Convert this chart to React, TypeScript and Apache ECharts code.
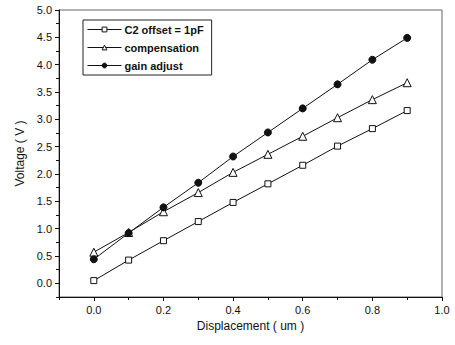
import React, { useEffect, useRef } from "react";
import * as echarts from "echarts";

const xValues = [0, 0.1, 0.2, 0.3, 0.4, 0.5, 0.6, 0.7, 0.8, 0.9];
const offsetSeries = [0.05, 0.425, 0.78, 1.13, 1.48, 1.82, 2.16, 2.51, 2.83, 3.16];
const compensationSeries = [0.57, 0.93, 1.31, 1.66, 2.03, 2.36, 2.69, 3.03, 3.36, 3.67];
const gainSeries = [0.44, 0.92, 1.39, 1.84, 2.32, 2.76, 3.2, 3.64, 4.09, 4.49];
const xTickLabels = [0, 0.2, 0.4, 0.6, 0.8, 1.0];
const yTickLabels = [0, 0.5, 1.0, 1.5, 2.0, 2.5, 3.0, 3.5, 4.0, 4.5, 5.0];
const seriesNames = ["C2 offset = 1pF", "compensation", "gain adjust"];

const font = "Liberation Sans, Arial, sans-serif";

export default function App() {
  const ref = useRef<HTMLDivElement>(null);
  useEffect(() => {
    if (!ref.current) return;
    const chart = echarts.init(ref.current, undefined, { renderer: "svg" });
    const pair = (ys: number[]) => xValues.map((x, i) => [x, ys[i]]);
    const lineStyle = { color: "#111", width: 1 };
    chart.setOption({
      animation: false,
      backgroundColor: "#fff",
      textStyle: { fontFamily: font },
      grid: {
        left: 59,
        right: 13,
        top: 10,
        bottom: 48,
        show: true,
        borderColor: "#666",
        borderWidth: 1,
      },
      legend: {
        orient: "vertical",
        left: 83,
        top: 20,
        padding: [4, 8, 4, 4],
        itemWidth: 34,
        itemHeight: 6,
        itemGap: 7,
        borderColor: "#222",
        borderWidth: 1,
        lineStyle: { width: 1 },
        itemStyle: { borderWidth: 1 },
        textStyle: { fontFamily: font, fontSize: 11, color: "#111", fontWeight: "bold", padding: [0, 0, 0, -2] },
        data: seriesNames,
      },
      xAxis: [
        {
          type: "value",
          min: -0.1,
          max: 1.0,
          name: "Displacement ( um )",
          nameLocation: "middle",
          nameGap: 23,
          nameTextStyle: { fontFamily: font, fontSize: 12, color: "#111" },
          axisLine: { show: true, onZero: false, lineStyle: { color: "#111", width: 1 } },
          axisTick: { show: true, customValues: xTickLabels, length: 4, lineStyle: { color: "#111" } },
          axisLabel: {
            customValues: xTickLabels,
            formatter: (v: number) => v.toFixed(1),
            fontFamily: font,
            fontSize: 11,
            color: "#111",
            margin: 7,
          },
          splitLine: { show: false },
        },
        {
          type: "value",
          min: -0.1,
          max: 1.0,
          interval: 0.1,
          position: "bottom",
          axisLine: { show: false, onZero: false },
          axisTick: { show: true, length: 3, lineStyle: { color: "#111" } },
          axisLabel: { show: false },
          splitLine: { show: false },
        },
      ],
      yAxis: [
        {
          type: "value",
          min: -0.25,
          max: 5.0,
          name: "Voltage ( V )",
          nameLocation: "middle",
          nameGap: 31,
          nameTextStyle: { fontFamily: font, fontSize: 12, color: "#111" },
          axisLine: { show: true, onZero: false, lineStyle: { color: "#111", width: 1 } },
          axisTick: { show: true, customValues: yTickLabels, length: 4, lineStyle: { color: "#111" } },
          axisLabel: {
            customValues: yTickLabels,
            formatter: (v: number) => v.toFixed(1),
            fontFamily: font,
            fontSize: 11,
            color: "#111",
            margin: 7,
          },
          splitLine: { show: false },
        },
        {
          type: "value",
          min: -0.25,
          max: 5.0,
          interval: 0.25,
          position: "left",
          axisLine: { show: false, onZero: false },
          axisTick: { show: true, length: 3, lineStyle: { color: "#111" } },
          axisLabel: { show: false },
          splitLine: { show: false },
        },
      ],
      series: [
        {
          name: seriesNames[0],
          type: "line",
          data: pair(offsetSeries),
          symbol: "rect",
          symbolSize: 6,
          lineStyle,
          itemStyle: { color: "#fff", borderColor: "#111", borderWidth: 1 },
          z: 2,
        },
        {
          name: seriesNames[1],
          type: "line",
          data: pair(compensationSeries),
          symbol: "triangle",
          symbolSize: 8,
          lineStyle,
          itemStyle: { color: "#fff", borderColor: "#111", borderWidth: 1 },
          z: 3,
        },
        {
          name: seriesNames[2],
          type: "line",
          data: pair(gainSeries),
          symbol: "circle",
          symbolSize: 7,
          lineStyle,
          itemStyle: { color: "#111", borderColor: "#111", borderWidth: 1 },
          z: 4,
        },
      ],
    });
    return () => chart.dispose();
  }, []);
  return <div ref={ref} style={{ width: 455, height: 345, position: "absolute", left: 0, top: 0 }} />;
}
